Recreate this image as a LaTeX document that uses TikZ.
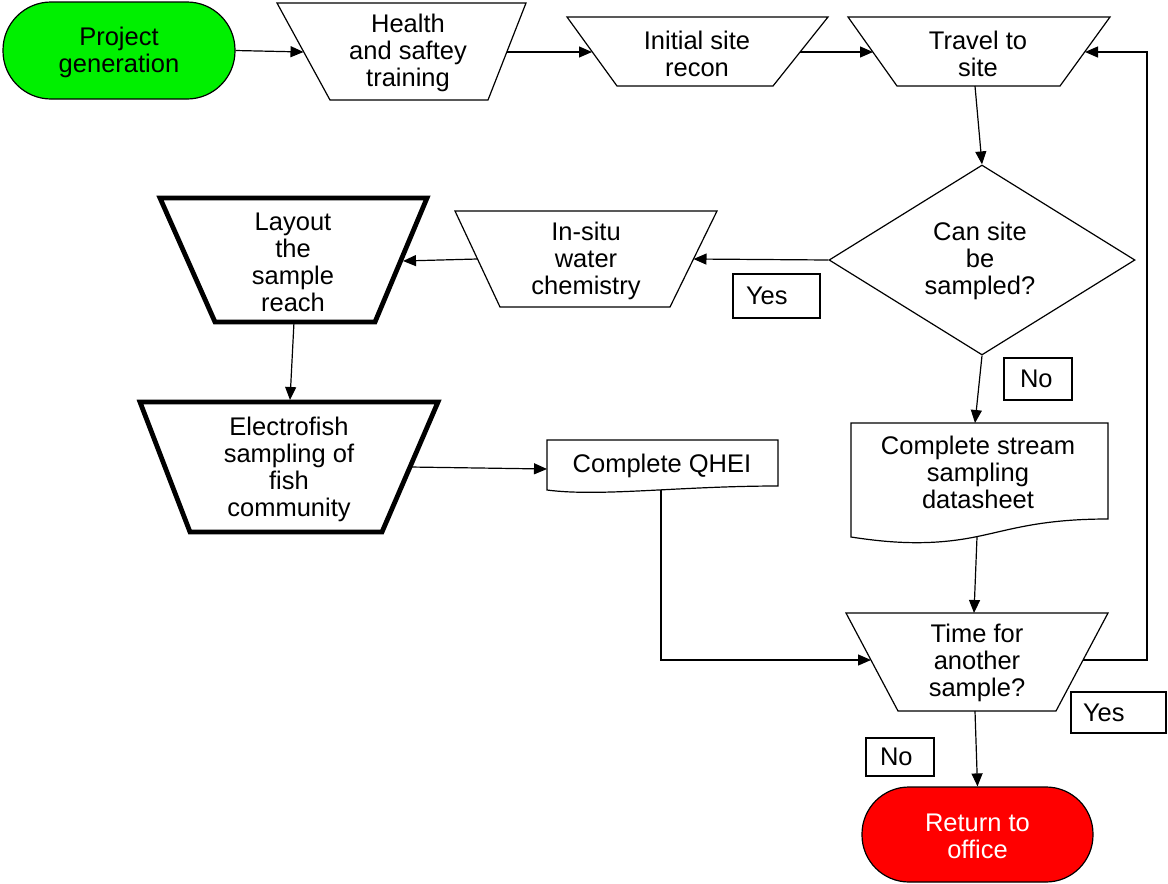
\documentclass[tikz,border=0pt]{standalone}
\usepackage{fontspec}
\setmainfont{Liberation Sans}
\usetikzlibrary{arrows.meta,shapes.geometric}
\definecolor{pgreen}{RGB}{0,240,0}
\definecolor{pred}{RGB}{255,0,0}
\begin{document}
\begin{tikzpicture}[x=1pt,y=-1pt,
  txt/.style={align=center,font=\fontsize{25.5}{27}\selectfont,inner sep=0pt,yshift=-2pt},
  shp/.style={draw=black,line width=1.2pt,fill=white,line join=miter},
  boldshp/.style={draw=black,line width=4.8pt,fill=white,line join=miter},
  arr/.style={draw=black,line width=1.2pt,-{Triangle[length=13pt,width=11pt]}},
  lblbox/.style={draw=black,line width=1.2pt,font=\fontsize{25.5}{27}\selectfont,align=left,inner ysep=0pt},
  stadium/.style={draw=black,line width=1.2pt,inner sep=0pt}
]
\useasboundingbox (0,0) rectangle (1168,884);

% terminators
\node[stadium,fill=pgreen,rounded corners=48pt,minimum width=232pt,minimum height=97pt] (pg) at (119,50.5) {};
\node[txt] (pgtxt) at (pg.center) {Project\\generation};
\node[stadium,fill=pred,rounded corners=47pt,minimum width=231pt,minimum height=95pt] (ret) at (977.5,834.5) {};
\node[txt,text=white] (rettxt) at (ret.center) {Return to\\office};

% trapezoids
\draw[shp] (277,3) -- (526,3) -- (488,100) -- (330,100) -- cycle;
\node[txt] (hs) at (408,51) {Health\\and saftey\\training};
\draw[shp] (567,17) -- (828,17) -- (773,86) -- (617,86) -- cycle;
\node[txt] (isr) at (697,52) {Initial site\\recon};
\draw[shp] (848,17) -- (1110,17) -- (1060,86) -- (897,86) -- cycle;
\node[txt] (ts) at (978,52) {Travel to\\site};
\draw[shp] (455,211) -- (717,211) -- (670,307) -- (500,307) -- cycle;
\node[txt] (is) at (586,259) {In-situ\\water\\chemistry};
\draw[boldshp] (160,198) -- (427,198) -- (375,322) -- (215,322) -- cycle;
\node[txt] (lay) at (293,260) {Layout\\the\\sample\\reach};
\draw[boldshp] (140,402) -- (438,402) -- (382,532) -- (190,532) -- cycle;
\node[txt] (ef) at (289,467) {Electrofish\\sampling of\\fish\\community};
\draw[shp] (846,613) -- (1108,613) -- (1056,711) -- (898,711) -- cycle;
\node[txt] (tfas) at (977,661) {Time for\\another\\sample?};

% decision
\node[diamond,shp,inner sep=0pt,aspect=1.6,minimum width=306pt,minimum height=190pt] (dia) at (982,260) {};
\node[txt] (diatxt) at (980,259) {Can site\\be\\sampled?};

% documents
\draw[shp] (547,440) -- (778,440) -- (778,486) .. controls (680,486) and (600,497) .. (547,490) -- cycle;
\node[txt] (qhei) at (662,464) {Complete QHEI};
\draw[shp] (851,423) -- (1108,423) -- (1108,519) .. controls (1040,519) and (1010,530) .. (975,537) .. controls (930,546) and (890,543) .. (851,537) -- cycle;
\node[txt] (cssd) at (978,470) {Complete stream\\sampling\\datasheet};

% label boxes
\node[lblbox,inner xsep=13pt,text width=61pt,minimum height=44pt] (yes1) at (776.5,296) {Yes};
\node[lblbox,inner xsep=16pt,text width=36pt,minimum height=42pt] (no1) at (1038,379) {No};
\node[lblbox,inner xsep=12pt,text width=71pt,minimum height=41pt] (yes2) at (1118.5,712.5) {Yes};
\node[lblbox,inner xsep=14pt,text width=40pt,minimum height=38pt] (no2) at (900,757) {No};

% connection points
\coordinate (hsL) at (303.5,52);
\coordinate (hsR) at (507,52);
\coordinate (isrL) at (592,52);
\coordinate (isrR) at (800,52);
\coordinate (tsL) at (873,52);
\coordinate (tsR) at (1085,52);
\coordinate (tsB) at (975,86);
\coordinate (isR) at (693.5,259);
\coordinate (isL) at (477.5,259);
\coordinate (layR) at (403,261);
\coordinate (layB) at (294,322);
\coordinate (efT) at (290,400);
\coordinate (efR) at (410,467);
\coordinate (qheiL) at (547,469);
\coordinate (qheiB) at (661,490);
\coordinate (cssdT) at (975,423);
\coordinate (cssdB) at (977,537);
\coordinate (tfasT) at (974,613);
\coordinate (tfasL) at (871,660);
\coordinate (tfasR) at (1083,660);
\coordinate (tfasB) at (975,711);
\coordinate (loopA) at (1147,660);
\coordinate (loopB) at (1147,52);

% connectors
\draw[arr] (pg.east) -- (hsL);
\draw[arr] (hsR) -- (isrL);
\draw[arr] (isrR) -- (tsL);
\draw[arr] (tsB) -- (dia.north);
\draw[arr] (dia.west) -- (isR);
\draw[arr] (isL) -- (layR);
\draw[arr] (layB) -- (efT);
\draw[arr] (efR) -- (qheiL);
\draw[arr] (dia.south) -- (cssdT);
\draw[arr] (cssdB) -- (tfasT);
\draw[arr] (qheiB) |- (tfasL);
\draw[arr] (tfasR) -- (loopA) -- (loopB) -- (tsR);
\draw[arr] (tfasB) -- (ret.north);
\end{tikzpicture}
\end{document}
